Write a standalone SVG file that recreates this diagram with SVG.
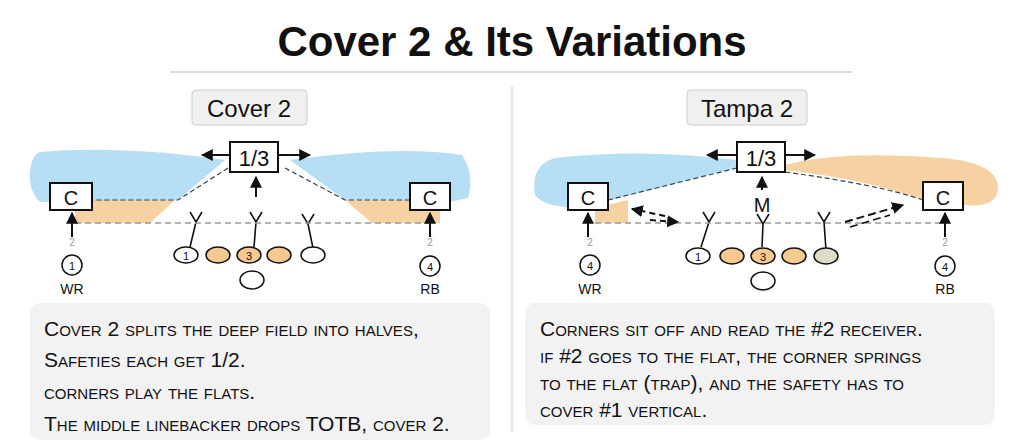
<svg xmlns="http://www.w3.org/2000/svg" width="1024" height="442" viewBox="0 0 1024 442">
<defs>
<marker id="ah" viewBox="0 0 10 10" refX="9" refY="5" markerWidth="6" markerHeight="6" orient="auto-start-reverse"><path d="M0,0 L10,5 L0,10 z" fill="#111"/></marker>
<style>
.t{font-family:"Liberation Sans",Arial,sans-serif;fill:#111}
.box{fill:#fff;stroke:#111;stroke-width:2}
.lab{fill:#f0f0f0;stroke:#ccc;stroke-width:1}
.blue{fill:#a9d8f2;opacity:.85}
.or{fill:#f5c990;opacity:.85}
.dash{stroke:#999;stroke-width:1.5;stroke-dasharray:6 4;fill:none}
.edge{stroke:#345;stroke-width:1.2;stroke-dasharray:5 3;fill:none}
.arr{stroke:#111;stroke-width:2;fill:none;marker-end:url(#ah)}
.pl{stroke:#111;stroke-width:1.6;fill:none}
.ob{stroke:#111;stroke-width:1.5}
.txt{fill:#f2f2f2}
.body{font-family:"Liberation Sans",Arial,sans-serif;font-size:21px;fill:#111;font-variant:small-caps}
</style>
</defs>
<rect width="1024" height="442" fill="#fff"/>
<text class="t" x="512" y="56" font-size="42" font-weight="bold" text-anchor="middle">Cover 2 &amp; Its Variations</text>
<line x1="170" y1="72" x2="852" y2="72" stroke="#ccc" stroke-width="1.5"/>
<line x1="512" y1="86" x2="512" y2="432" stroke="#ddd" stroke-width="1.5"/>

<g id="left-panel">
<g id="cover2-label"><rect class="lab" x="192" y="90" width="115" height="35" rx="4"/><text class="t" x="249" y="117" font-size="24" text-anchor="middle">Cover 2</text></g>
<g id="zones-left">
<path class="blue" d="M40,152 Q120,145 225,160 L178,200 L40,202 Q28,190 30,170 Q32,155 40,152 z"/>
<path class="blue" d="M290,160 Q400,145 462,155 Q475,175 468,198 L450,202 L345,200 z"/>
<path class="or" d="M75,200 L175,200 L150,223 L75,223 z"/>
<path class="or" d="M345,200 L440,200 L440,223 L372,223 z"/>
<path class="edge" d="M228,168 L178,200 L92,200"/>
<path class="edge" d="M285,168 L345,200 L410,200"/>
</g>
<g id="safety-left"><rect class="box" x="230" y="142" width="48" height="30"/><text class="t" x="254" y="166" font-size="22" text-anchor="middle">1/3</text></g>
<g id="c-left"><rect class="box" x="50" y="183" width="42" height="27"/><text class="t" x="71" y="205" font-size="20" text-anchor="middle">C</text></g>
<g id="c-right"><rect class="box" x="410" y="183" width="40" height="27"/><text class="t" x="430" y="205" font-size="20" text-anchor="middle">C</text></g>
<g id="lbs-left">
<path class="pl" d="M190,212 L196,222 L202,212 M196,222 L190,247"/>
<path class="pl" d="M250,212 L256,222 L262,212 M256,222 L254,247"/>
<path class="pl" d="M302,214 L308,224 L314,214 M308,224 L313,248"/>
</g>
<g id="ol-left">
<ellipse class="ob" cx="186" cy="255" rx="12" ry="8" fill="#fff"/><text class="t" x="186" y="260" font-size="11" text-anchor="middle">1</text>
<ellipse class="ob" cx="218" cy="255" rx="12" ry="8" fill="#f5c990"/>
<ellipse class="ob" cx="249" cy="255" rx="12" ry="8" fill="#f5c990"/><text class="t" x="249" y="260" font-size="11" text-anchor="middle">3</text>
<ellipse class="ob" cx="279" cy="255" rx="12" ry="8" fill="#f5c990"/>
<ellipse class="ob" cx="313" cy="255" rx="12" ry="8" fill="#fff"/>
<ellipse class="ob" cx="252" cy="280" rx="12" ry="9" fill="#fff"/>
</g>
<g id="wr-left"><circle class="ob" cx="72" cy="265" r="10" fill="#fff"/><text class="t" x="72" y="270" font-size="11" text-anchor="middle">1</text><text class="t" x="72" y="246" font-size="10" fill="#999" text-anchor="middle" style="fill:#999">2</text><text class="t" x="72" y="294" font-size="14" text-anchor="middle">WR</text></g>
<g id="rb-left"><circle class="ob" cx="430" cy="266" r="10" fill="#fff"/><text class="t" x="430" y="271" font-size="11" text-anchor="middle">4</text><text class="t" x="430" y="246" font-size="10" text-anchor="middle" style="fill:#999">2</text><text class="t" x="430" y="294" font-size="14" text-anchor="middle">RB</text></g>
<g id="text-left"><rect class="txt" x="30" y="303" width="460" height="137" rx="10"/>
<text class="body" x="44" y="336">Cover 2 splits the deep field into halves,</text>
<text class="body" x="44" y="367">Safeties each get 1/2.</text>
<text class="body" x="44" y="399">corners play the flats.</text>
<text class="body" x="44" y="431">The middle linebacker drops TOTB, cover 2.</text></g>
</g>

<g id="right-panel">
<g id="tampa2-label"><rect class="lab" x="687" y="90" width="120" height="35" rx="4"/><text class="t" x="747" y="117" font-size="24" text-anchor="middle">Tampa 2</text></g>
<g id="zones-right">
<path class="blue" d="M555,158 Q640,148 737,160 L737,168 L610,200 L600,208 Q545,210 535,195 Q530,165 555,158 z"/>
<path class="or" d="M785,165 Q840,150 940,158 Q1000,162 998,190 Q995,208 965,205 L923,200 Q870,180 785,170 z"/>
<path class="or" d="M595,208 L628,200 L628,223 L595,223 z"/>
<path class="edge" d="M737,168 L608,200"/>
<path class="edge" d="M785,172 Q880,185 923,200"/>
</g>
<g id="safety-right"><rect class="box" x="737" y="142" width="48" height="30"/><text class="t" x="761" y="166" font-size="22" text-anchor="middle">1/3</text></g>
<g id="c-left-r"><rect class="box" x="568" y="183" width="40" height="27"/><text class="t" x="588" y="205" font-size="20" text-anchor="middle">C</text></g>
<g id="c-right-r"><rect class="box" x="923" y="182" width="40" height="28"/><text class="t" x="943" y="205" font-size="20" text-anchor="middle">C</text></g>
<g id="mlb"><text class="t" x="762" y="212" font-size="20" text-anchor="middle">M</text></g>
<g id="lbs-right">
<path class="pl" d="M703,212 L709,222 L715,212 M709,222 L701,247"/>
<path class="pl" d="M757,214 L763,224 L769,214 M763,224 L762,247"/>
<path class="pl" d="M818,212 L824,222 L830,212 M824,222 L826,250"/>
</g>
<g id="ol-right">
<ellipse class="ob" cx="698" cy="256" rx="12" ry="8" fill="#fff"/><text class="t" x="698" y="261" font-size="11" text-anchor="middle">1</text>
<ellipse class="ob" cx="732" cy="256" rx="12" ry="8" fill="#f5c990"/>
<ellipse class="ob" cx="763" cy="256" rx="12" ry="8" fill="#f5c990"/><text class="t" x="763" y="261" font-size="11" text-anchor="middle">3</text>
<ellipse class="ob" cx="794" cy="256" rx="12" ry="8" fill="#f5c990"/>
<ellipse class="ob" cx="826" cy="256" rx="12" ry="8" fill="#dcdcc8"/>
<ellipse class="ob" cx="763" cy="281" rx="12" ry="9" fill="#fff"/>
</g>
<g id="wr-right"><circle class="ob" cx="590" cy="265" r="10" fill="#fff"/><text class="t" x="590" y="270" font-size="11" text-anchor="middle">4</text><text class="t" x="590" y="246" font-size="10" text-anchor="middle" style="fill:#999">2</text><text class="t" x="590" y="294" font-size="14" text-anchor="middle">WR</text></g>
<g id="rb-right"><circle class="ob" cx="945" cy="266" r="10" fill="#fff"/><text class="t" x="945" y="271" font-size="11" text-anchor="middle">4</text><text class="t" x="945" y="246" font-size="10" text-anchor="middle" style="fill:#999">2</text><text class="t" x="945" y="294" font-size="14" text-anchor="middle">RB</text></g>
<g id="text-right"><rect class="txt" x="525" y="303" width="470" height="122" rx="10"/>
<text class="body" x="540" y="336">Corners sit off and read the #2 receiver.</text>
<text class="body" x="540" y="363">if #2 goes to the flat, the corner springs</text>
<text class="body" x="540" y="390">to the flat (trap), and the safety has to</text>
<text class="body" x="540" y="417">cover #1 vertical.</text></g>
</g>

<g id="connectors">
<line class="dash" x1="75" y1="223" x2="432" y2="223"/>
<line class="dash" x1="595" y1="223" x2="945" y2="223"/>
<line class="arr" x1="230" y1="155" x2="202" y2="155"/>
<line class="arr" x1="278" y1="155" x2="310" y2="155"/>
<line class="arr" x1="256" y1="197" x2="256" y2="177"/>
<line class="arr" x1="72" y1="237" x2="72" y2="213"/>
<line class="arr" x1="430" y1="237" x2="430" y2="213"/>
<line class="arr" x1="737" y1="155" x2="707" y2="155"/>
<line class="arr" x1="785" y1="155" x2="815" y2="155"/>
<line class="arr" x1="762" y1="190" x2="762" y2="177"/>
<line class="arr" x1="588" y1="237" x2="588" y2="213"/>
<line class="arr" x1="945" y1="237" x2="945" y2="213"/>
<line class="arr" x1="665" y1="216" x2="632" y2="209" stroke-dasharray="6 4"/>
<line class="arr" x1="650" y1="220" x2="678" y2="222" stroke-dasharray="6 4"/>
<line class="arr" x1="845" y1="222" x2="903" y2="205" stroke-dasharray="8 4"/>
<line class="pl" x1="850" y1="227" x2="890" y2="215" stroke-dasharray="8 4"/>
</g>
</svg>
